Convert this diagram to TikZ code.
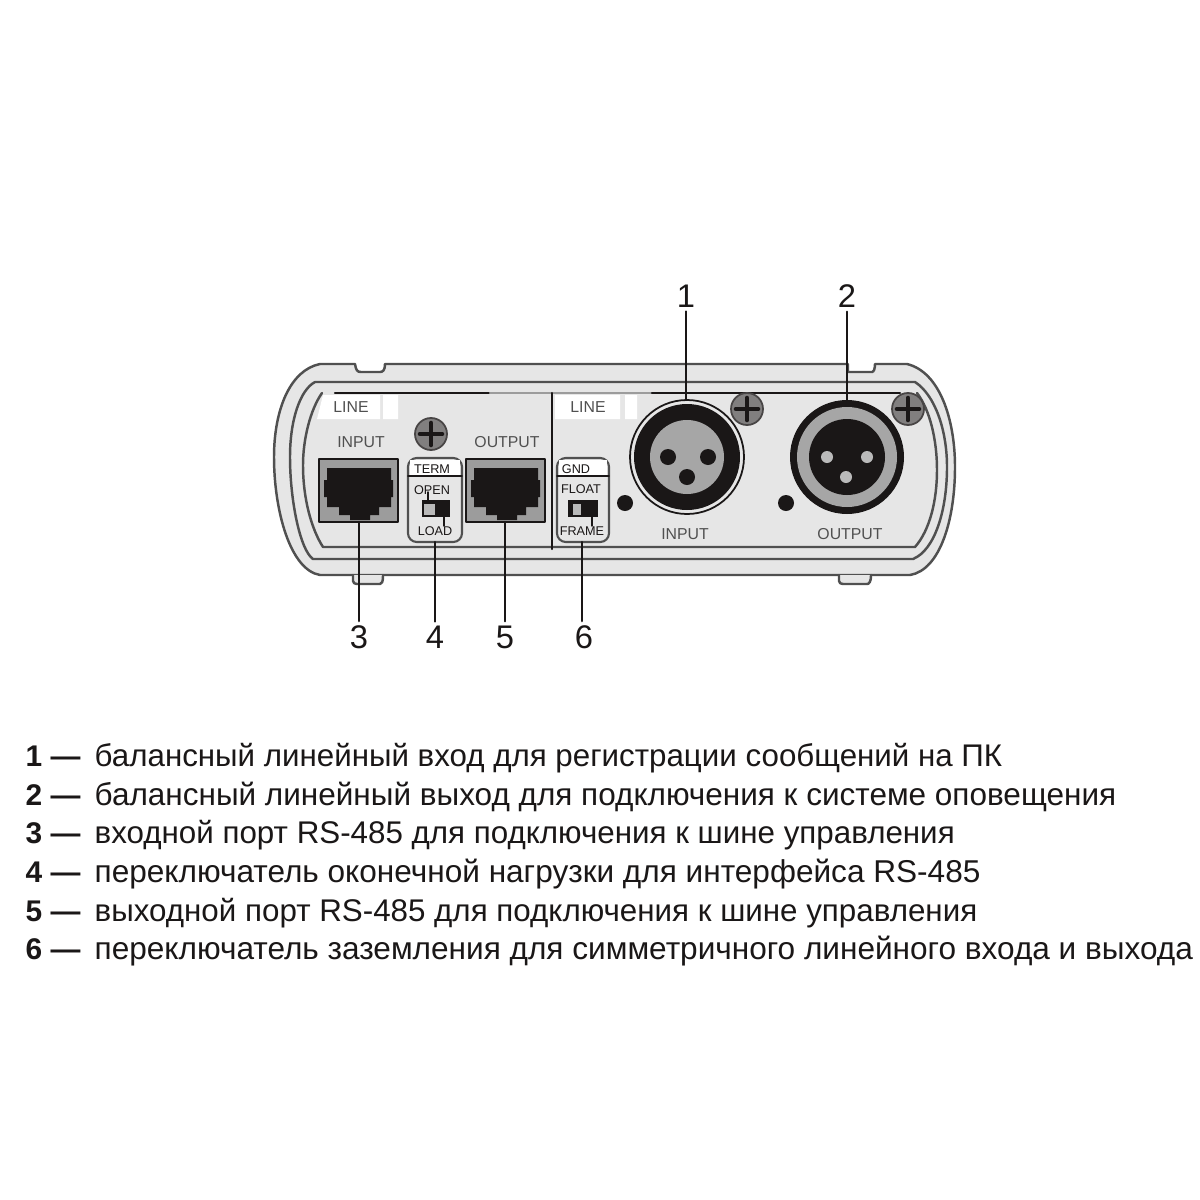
\documentclass[tikz,border=0pt]{standalone}
\usepackage{fontspec}
\setmainfont{Liberation Sans}
\definecolor{bodygray}{HTML}{E6E6E6}
\definecolor{linegray}{HTML}{505050}
\definecolor{portgray}{HTML}{9C9C9C}
\definecolor{inkblack}{HTML}{1A1717}
\tikzset{
  leader/.style={inkblack,line width=0.6pt},
  shell/.style={linegray,line width=0.7pt},
  panellabel/.style={inner sep=0pt,text=linegray,font=\fontsize{4.5}{5}\selectfont},
  switchlabel/.style={inner sep=0pt,text=inkblack,font=\fontsize{3.6}{4}\selectfont},
  callout/.style={inner sep=1pt,text=inkblack,font=\fontsize{9.3}{11}\selectfont},
  legendrow/.style={anchor=base west,inner sep=0pt,text=inkblack},
  legendnum/.style={anchor=base west,inner sep=0pt,text=inkblack,font=\fontsize{8.5}{10}\selectfont\bfseries},
}
\newcommand{\screwhead}[1]{%
  \filldraw[fill=inkblack!55,draw=inkblack!80,line width=0.5pt] (#1) circle (16);
  \draw[inkblack,line width=1.3pt] ($(#1)+(-11,0)$)--($(#1)+(11,0)$) ($(#1)+(0,-11)$)--($(#1)+(0,11)$);
}
\newcommand{\rjport}[1]{%
  \begin{scope}[shift={(#1,0)}]
    \fill[portgray,draw=inkblack,line width=0.6pt] (319,459) rectangle (398,522);
    \fill[inkblack] (327,468)--(391,468)--(391,480)--(393,480)--(393,497)--(391,497)--(391,507)--(379,507)--(379,515)--(370,515)--(370,520)--(350,520)--(350,515)--(339,515)--(339,507)--(327,507)--(327,497)--(324,497)--(324,480)--(327,480)--cycle;
  \end{scope}
}
\usetikzlibrary{calc}
\begin{document}
\begin{tikzpicture}[x=0.01cm,y=-0.01cm,line join=round,line cap=round]
\useasboundingbox (0,0) rectangle (1200,1200);
% housing
\fill[white] (0,0) rectangle (1200,1200);
\filldraw[shell,fill=bodygray] (320,364)--(355,364) .. controls (356,370) and (357,372) .. (361,372)--(380,372) .. controls (383,372) and (385,370) .. (385,364)--(848,364)--(848,372)--(872,372) .. controls (874,372) and (875,368) .. (875,364)--(907,364)
  .. controls (940,372) and (955,420) .. (955,467) .. controls (955,520) and (940,570) .. (910,575)
  --(320,575) .. controls (290,570) and (274,510) .. (274,457) .. controls (274,410) and (290,370) .. (320,364)--cycle;
\draw[shell] (315,382)--(915,382) .. controls (935,395) and (947,430) .. (947,467) .. controls (947,510) and (935,550) .. (913,559)--(313,559) .. controls (300,550) and (290,500) .. (290,457) .. controls (290,420) and (300,390) .. (315,382);
\draw[shell] (322,393) .. controls (310,410) and (303,440) .. (303,465) .. controls (303,500) and (312,530) .. (323,547)--(915,547) .. controls (930,530) and (937,500) .. (937,470) .. controls (937,440) and (930,410) .. (917,393);
% feet
\filldraw[shell,fill=bodygray] (353,575)--(353,581) .. controls (353,583) and (355,584) .. (357,584)--(380,584) .. controls (382,584) and (383,582) .. (383,575);
\filldraw[shell,fill=bodygray] (839,575)--(839,581) .. controls (839,583) and (841,584) .. (843,584)--(867,584) .. controls (869,584) and (871,582) .. (871,575);
% white plates
\fill[white] (323,395)--(380,395)--(380,419)--(317,419)--cycle (383,395) rectangle (398,419);
\fill[white] (555,395) rectangle (620,419) (625,395) rectangle (637,419);
% top edge and divider
\draw[inkblack,line width=0.7pt] (335,393)--(490,393);
\draw[portgray,line width=0.7pt] (490,393)--(652,393);
\draw[inkblack,line width=0.7pt] (652,393)--(900,393);
\draw[inkblack,line width=0.6pt] (552,393)--(552,549);
% screws
\screwhead{431,434}
\screwhead{747,409}
\screwhead{908,409}
% RJ45 ports
\rjport{0}
\rjport{147}
% term switch
\filldraw[rounded corners=2.5pt,draw=linegray,line width=0.6pt,fill=bodygray] (408,458) rectangle (462,542);
\fill[white] (410,460) rectangle (460,476);
\draw[inkblack,line width=0.5pt] (408,476)--(462,476);
\fill[inkblack] (422,500) rectangle (450,517);
\fill[portgray!70] (424,504) rectangle (435,515);
\draw[inkblack,line width=0.4pt] (428,492)--(428,500) (444,517)--(444,526);
% gnd switch
\filldraw[rounded corners=2.5pt,draw=linegray,line width=0.6pt,fill=bodygray] (557,458) rectangle (609,542);
\fill[white] (559,460) rectangle (607,476);
\draw[inkblack,line width=0.5pt] (557,476)--(609,476);
\fill[inkblack] (568,500) rectangle (598,517);
\fill[portgray!70] (573,504) rectangle (581,515);
\draw[inkblack,line width=0.4pt] (592,517)--(592,526);
% XLR input
\draw[inkblack,line width=0.5pt,fill=bodygray] (687,457) circle (57);
\fill[inkblack] (687,457) circle (53);
\fill[portgray!90] (687,457) circle (37);
\foreach \hx/\hy in {668/457,708/457,687/477} {\fill[inkblack] (\hx,\hy) circle (8);}
% XLR output
\fill[inkblack] (847,457) circle (57);
\fill[portgray!90] (847,457) circle (50);
\fill[inkblack] (847,457) circle (38);
\foreach \hx/\hy in {827/457,867/457,846/477} {\fill[portgray!70] (\hx,\hy) circle (6);}
% dots
\fill[inkblack] (625,503) circle (8) (786,503) circle (8);
% panel texts
\node[panellabel] (lineleft) at (351,407) {LINE};
\node[panellabel] (lineright) at (588,407) {LINE};
\node[panellabel] (rjin) at (361,442) {INPUT};
\node[panellabel] (rjout) at (507,442) {OUTPUT};
\node[panellabel] (xlrin) at (685,534) {INPUT};
\node[panellabel] (xlrout) at (850,534) {OUTPUT};
\node[switchlabel] (termtxt) at (432,469) {TERM};
\node[switchlabel] (opentxt) at (432,490) {OPEN};
\node[switchlabel] (loadtxt) at (435,531) {LOAD};
\node[switchlabel] (gndtxt) at (576,469) {GND};
\node[switchlabel] (floattxt) at (581,489) {FLOAT};
\node[switchlabel] (frametxt) at (582,531) {FRAME};
% callouts
\node[callout] (num1) at (686,296) {1};
\node[callout] (num2) at (847,296) {2};
\node[callout] (num3) at (359,637) {3};
\node[callout] (num4) at (435,637) {4};
\node[callout] (num5) at (505,637) {5};
\node[callout] (num6) at (584,637) {6};
\coordinate (xlrintop) at (686,400);
\coordinate (xlrouttop) at (847,400);
\coordinate (rjinbot) at (359,522);
\coordinate (termbot) at (435,542);
\coordinate (rjoutbot) at (505,522);
\coordinate (gndbot) at (582,542);
\draw[leader] (num1.south)--(xlrintop);
\draw[leader] (num2.south)--(xlrouttop);
\draw[leader] (num3.north)--(rjinbot);
\draw[leader] (num4.north)--(termbot);
\draw[leader] (num5.north)--(rjoutbot);
\draw[leader] (num6.north -| gndbot)--(gndbot);
% legend
\foreach \rowy/\rown/\rowsize/\rowtxt in {
  766/1/8.90/балансный линейный вход для регистрации сообщений на ПК,
  805/2/8.96/балансный линейный выход для подключения к системе оповещения,
  843/3/8.91/входной порт RS-485 для подключения к шине управления,
  882/4/8.98/переключатель оконечной нагрузки для интерфейса RS-485,
  921/5/8.91/выходной порт RS-485 для подключения к шине управления,
  959/6/8.98/переключатель заземления для симметричного линейного входа и выхода} {
  \node[legendnum] (legnum\rown) at (25,\rowy) {\rown\ —};
  \node[legendrow,font=\fontsize{\rowsize}{10}\selectfont] (legtxt\rown) at (94,\rowy) {\rowtxt};
}
\end{tikzpicture}
\end{document}
